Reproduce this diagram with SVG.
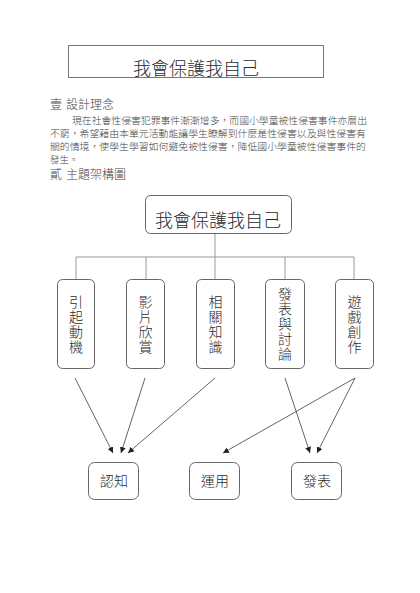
<svg xmlns="http://www.w3.org/2000/svg" width="420" height="593" viewBox="0 0 420 593">
<defs>
<style>
.bg{fill:#ffffff}
.title{fill:none;stroke:#777777;stroke-width:1}
.box{fill:#ffffff;stroke:#666666;stroke-width:1}
.tree{fill:none;stroke:#999999;stroke-width:1}
.arrow{fill:none;stroke:#222222;stroke-width:0.7;marker-end:url(#ah)}
.t{font-family:"Liberation Sans","Noto Sans CJK TC",sans-serif;fill:#2a2a2a;font-weight:300}
.p{font-family:"Liberation Serif","Noto Sans CJK TC",serif;fill:#444444;font-weight:300}
</style>
<marker id="ah" viewBox="0 0 10 10" refX="10" refY="5" markerWidth="6" markerHeight="6" markerUnits="userSpaceOnUse" orient="auto">
<path d="M0,0 L10,5 L0,10 z" fill="#222222"/>
</marker>
</defs>
<rect class="bg" x="0" y="0" width="420" height="593"/>

<g id="page-title">
<rect class="title" x="68.5" y="45.5" width="255" height="32"/>
<text class="t" x="196" y="75" font-size="18" text-anchor="middle">我會保護我自己</text>
</g>

<g id="text-body">
<text class="p" y="108.5" font-size="12"><tspan x="50">壹</tspan><tspan x="66">設計理念</tspan></text>
<text class="p" x="72" y="123.5" font-size="9.5" textLength="295" lengthAdjust="spacingAndGlyphs">現在社會性侵害犯罪事件漸漸增多，而國小學童被性侵害事件亦層出</text>
<text class="p" x="50" y="136.5" font-size="9.5" textLength="316" lengthAdjust="spacingAndGlyphs">不窮，希望藉由本單元活動能讓學生瞭解到什麼是性侵害以及與性侵害有</text>
<text class="p" x="50" y="149.5" font-size="9.5" textLength="316" lengthAdjust="spacingAndGlyphs">關的情境，使學生學習如何避免被性侵害，降低國小學童被性侵害事件的</text>
<text class="p" x="50" y="162.5" font-size="9.5">發生。</text>
<text class="p" y="178.5" font-size="12"><tspan x="50">貳</tspan><tspan x="66">主題架構圖</tspan></text>
</g>

<g id="connectors">
<path class="tree" d="M215,233 V257 M76,257 H354 M76,257 V279 M146,257 V279 M215,257 V279 M285,257 V279 M354,257 V279"/>
<line class="arrow" x1="75" y1="378" x2="113" y2="453"/>
<line class="arrow" x1="145" y1="378" x2="121" y2="453"/>
<line class="arrow" x1="215" y1="378" x2="128" y2="453"/>
<line class="arrow" x1="285" y1="378" x2="310" y2="453"/>
<line class="arrow" x1="355" y1="378" x2="223" y2="453"/>
<line class="arrow" x1="355" y1="378" x2="317" y2="453"/>
</g>

<g id="root">
<rect class="box" x="145.5" y="195.5" width="146" height="38" rx="5"/>
<text class="t" x="218" y="227" font-size="18" text-anchor="middle">我會保護我自己</text>
</g>

<g id="n1">
<rect class="box" x="57.5" y="279.5" width="37" height="89" rx="5"/>
<text class="t" font-size="14" text-anchor="middle"><tspan x="76" y="307">引</tspan><tspan x="76" y="322">起</tspan><tspan x="76" y="337">動</tspan><tspan x="76" y="352">機</tspan></text>
</g>
<g id="n2">
<rect class="box" x="126.5" y="279.5" width="38" height="89" rx="5"/>
<text class="t" font-size="14" text-anchor="middle"><tspan x="145.5" y="307">影</tspan><tspan x="145.5" y="322">片</tspan><tspan x="145.5" y="337">欣</tspan><tspan x="145.5" y="352">賞</tspan></text>
</g>
<g id="n3">
<rect class="box" x="196.5" y="279.5" width="38" height="89" rx="5"/>
<text class="t" font-size="14" text-anchor="middle"><tspan x="215.5" y="307">相</tspan><tspan x="215.5" y="322">關</tspan><tspan x="215.5" y="337">知</tspan><tspan x="215.5" y="352">識</tspan></text>
</g>
<g id="n4">
<rect class="box" x="265.5" y="279.5" width="39" height="89" rx="5"/>
<text class="t" font-size="14" text-anchor="middle"><tspan x="285" y="299">發</tspan><tspan x="285" y="314">表</tspan><tspan x="285" y="329">與</tspan><tspan x="285" y="344">討</tspan><tspan x="285" y="359">論</tspan></text>
</g>
<g id="n5">
<rect class="box" x="335.5" y="279.5" width="38" height="89" rx="5"/>
<text class="t" font-size="14" text-anchor="middle"><tspan x="354.5" y="307">遊</tspan><tspan x="354.5" y="322">戲</tspan><tspan x="354.5" y="337">創</tspan><tspan x="354.5" y="352">作</tspan></text>
</g>

<g id="r1">
<rect class="box" x="88.5" y="462.5" width="50" height="37" rx="6"/>
<text class="t" x="114" y="486" font-size="14" text-anchor="middle">認知</text>
</g>
<g id="r2">
<rect class="box" x="189.5" y="462.5" width="50" height="37" rx="6"/>
<text class="t" x="215" y="486" font-size="14" text-anchor="middle">運用</text>
</g>
<g id="r3">
<rect class="box" x="291.5" y="462.5" width="50" height="37" rx="6"/>
<text class="t" x="317" y="486" font-size="14" text-anchor="middle">發表</text>
</g>
</svg>
